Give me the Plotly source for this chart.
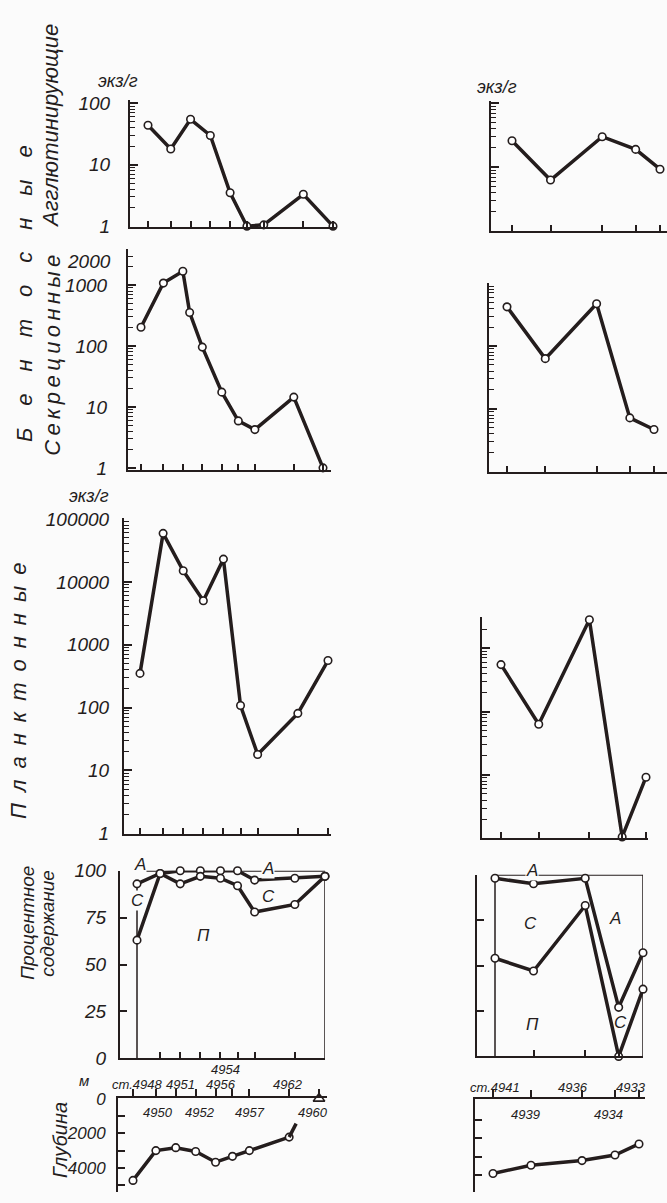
import math
import plotly.graph_objects as go

W, H = 667, 1203

# ---------------- data ----------------
# left profile stations (order along profile) and their distances (relative units)
left_stations = ["4948", "4950", "4951", "4952", "4954", "4956", "4957", "4962", "4960"]
left_pos = [0, 23, 43, 63, 83, 100, 117, 157, 187]
# right profile
right_stations = ["4941", "4939", "4936", "4934", "4933"]
right_pos = [0, 38, 89, 122, 146]

# benthic agglutinated, specimens/g
left_aggl = [44, 18, 55, 30, 3.5, 1, 1.05, 3.3, 1]
right_aggl = [26, 6.3, 30, 19, 9.3]

# benthic secretory (calcareous), specimens/g (left has an extra sample between 4951 and 4952)
left_secr_pos = [0, 23, 43, 50, 63, 83, 100, 117, 157, 187]
left_secr = [203, 1080, 1690, 355, 96, 17.5, 5.9, 4.25, 14.5, 1]
right_secr = [420, 63, 470, 7.2, 4.7]

# planktonic, specimens/g
left_plank = [350, 59000, 15000, 5000, 23000, 108, 18, 81, 560]
right_plank = [550, 63, 2800, 1.05, 9.2]

# percentage: P (planktonic) and P+C (planktonic + secretory); remainder = A
left_pct_P = [63, 98.5, 93, 97, 96, 92, 78, 82, 97]
left_pct_PC = [93, 98.5, 100, 100, 100, 100, 95, 96, 97]
right_pct_P = [54, 47, 83, 0, 37]
right_pct_PC = [98, 95, 98, 27, 57]

# depth, m
left_depth = [4720, 3000, 2830, 3050, 3670, 3330, 3000, 2220]
left_depth_stub_pos = [157, 164]
left_depth_stub = [2220, 1440]
left_shallow_pos = [187]
left_shallow_depth = [0]
right_depth = [3900, 3450, 3200, 2900, 2300]

# tick labels
log_ticks_1 = [1, 10, 100]
log_ticks_2 = [1, 10, 100, 1000, 2000]
log_ticks_3 = [1, 10, 100, 1000, 10000, 100000]
pct_ticks = [0, 25, 50, 75, 100]
depth_ticks = [0, 2000, 4000]

# ---------------- styles ----------------
INK = "#241d1d"
BG = "#fbfbfb"
FONT = "Liberation Sans, Arial, sans-serif"
FONT_W = "Liberation Sans, DejaVu Sans, sans-serif"
LW = 3.5
TICKFONT = 19
MK = dict(symbol="circle", size=7.5, color="white", line=dict(color=INK, width=1.6))

fig = go.Figure()
layout = {}
annotations = []


def fx(p):
    return p / W


def fy(p):
    return 1 - p / H


def minor_log(lo_exp, hi_exp):
    vals = []
    for e in range(lo_exp, hi_exp + 1):
        for m in range(2, 10):
            vals.append(m * 10 ** e)
    return vals


def make_axes(n, L, R, T, B, f, l, pmin, pmax, yrange, ytype="linear",
              xside="bottom", xticks="inside", tickpos=None):
    s = (l - f) / (pmax - pmin)
    xr = [pmin - (f - L) / s, pmax + (R - l) / s]
    xa = dict(domain=[fx(L), fx(R)], range=xr, anchor=f"y{n}", showgrid=False,
              zeroline=False, showline=True, linecolor=INK, linewidth=2,
              ticks=xticks, ticklen=6, tickwidth=1.5, tickcolor=INK,
              tickvals=tickpos, showticklabels=False, side=xside, fixedrange=True)
    ya = dict(domain=[fy(B), fy(T)], range=yrange, type=ytype, anchor=f"x{n}",
              showgrid=False, zeroline=False, showline=True, linecolor=INK,
              linewidth=2, ticks="inside", ticklen=8, tickwidth=1.5, tickcolor=INK,
              fixedrange=True,
              tickfont=dict(family=FONT, size=TICKFONT, color=INK, style="italic"))
    layout[f"xaxis{n}"] = xa
    layout[f"yaxis{n}"] = ya
    return xa, ya


def log_range(B, T, y1px, ppd):
    return [-(B - y1px) / ppd, (y1px - T) / ppd]


def line(n, x, y, markers=True, width=LW):
    fig.add_trace(go.Scatter(
        x=x, y=y, xaxis=f"x{n}", yaxis=f"y{n}",
        mode="lines+markers" if markers else "lines",
        line=dict(color=INK, width=width),
        marker=MK, cliponaxis=False, showlegend=False, hoverinfo="skip"))


# ---- left column ----
# 1 agglutinated
xa, ya = make_axes(1, 130, 336, 92, 221, 148, 333, 0, 187,
                   log_range(221, 92, 220, 62.5), "log", tickpos=left_pos)
ya.update(tickvals=log_ticks_1, ticktext=[str(v) for v in log_ticks_1],
          ticklabelstandoff=14,
          minor=dict(tickvals=minor_log(0, 1), ticks="inside", ticklen=5,
                     tickcolor=INK, tickwidth=1.2))
line(1, left_pos, left_aggl)

# 2 secretory (the top label "2000" is drawn separately, slightly raised, as in the original)
xa, ya = make_axes(2, 128, 331, 243, 468, 141, 323, 0, 187,
                   log_range(468, 243, 466, 62), "log", tickpos=left_pos)
ya.update(tickvals=log_ticks_2,
          ticktext=[str(v) if v != log_ticks_2[-1] else "" for v in log_ticks_2],
          ticklabelstandoff=15,
          minor=dict(tickvals=minor_log(0, 3), ticks="inside", ticklen=5,
                     tickcolor=INK, tickwidth=1.2))
line(2, left_secr_pos, left_secr)

# 3 planktonic
xa, ya = make_axes(3, 124, 331, 517, 839, 140, 328, 0, 187,
                   log_range(839, 517, 838, 64), "log", tickpos=left_pos)
ya.update(tickvals=log_ticks_3, ticktext=[str(v) for v in log_ticks_3],
          ticklabelstandoff=9,
          minor=dict(tickvals=minor_log(0, 4), ticks="inside", ticklen=5,
                     tickcolor=INK, tickwidth=1.2))
line(3, left_pos, left_plank)

# 4 percentages
xa, ya = make_axes(4, 120, 325, 876, 1067, 137, 325, 0, 187,
                   [0, 100], tickpos=left_pos[1:-1])
ya.update(tickvals=pct_ticks, ticktext=[str(v) for v in pct_ticks],
          ticklabelstandoff=8, ticklen=7)
line(4, [left_pos[0], left_pos[-1]], [100, 100], markers=False, width=2)
line(4, [left_pos[0], left_pos[0]], [0, left_pct_PC[0]], markers=False, width=1.5)
line(4, [left_pos[-1], left_pos[-1]], [0, left_pct_P[-1]], markers=False, width=1.5)
line(4, left_pos, left_pct_PC)
line(4, left_pos, left_pct_P)

# 5 depth
xa, ya = make_axes(5, 118, 327, 1107, 1203, 133, 319, 0, 187,
                   [(1203 - 1106) / 18 * 1000, -(1107 - 1106) / 18 * 1000],
                   xside="top", xticks="outside", tickpos=left_pos)
ya.update(tickvals=depth_ticks, ticktext=[str(v) for v in depth_ticks],
          ticklabelstandoff=7, ticklen=7,
          tickfont=dict(family=FONT, size=17, color=INK, style="italic"),
          minor=dict(tickvals=[1000, 3000, 5000], ticks="inside", ticklen=7,
                     tickcolor=INK, tickwidth=1.5))
xa.update(ticklen=7)
line(5, left_pos[:-1], left_depth)
line(5, left_depth_stub_pos, left_depth_stub, markers=False)
fig.add_trace(go.Scatter(x=left_shallow_pos, y=left_shallow_depth, xaxis="x5", yaxis="y5",
                         mode="markers", cliponaxis=False, showlegend=False,
                         marker=dict(symbol="triangle-up", size=10, color="white",
                                     line=dict(color=INK, width=1.6))))

# ---- right column ----
xa, ya = make_axes(6, 491, 667, 93, 225, 512, 660, 0, 146,
                   log_range(225, 93, 225, 65), "log", tickpos=right_pos)
ya.update(tickvals=[1, 10, 100], showticklabels=False,
          minor=dict(tickvals=minor_log(0, 1), ticks="inside", ticklen=5,
                     tickcolor=INK, tickwidth=1.2))
line(6, right_pos, right_aggl)

xa, ya = make_axes(7, 489, 667, 278, 470, 507, 654, 0, 146,
                   log_range(470, 278, 470, 64), "log", tickpos=right_pos)
ya.update(tickvals=[1, 10, 100, 1000], showticklabels=False,
          minor=dict(tickvals=minor_log(0, 2), ticks="inside", ticklen=5,
                     tickcolor=INK, tickwidth=1.2))
line(7, right_pos, right_secr)

xa, ya = make_axes(8, 482, 648, 618, 843, 501, 646, 0, 146,
                   log_range(843, 618, 843, 64.5), "log", tickpos=right_pos)
ya.update(tickvals=[1, 10, 100, 1000], showticklabels=False,
          minor=dict(tickvals=minor_log(0, 3), ticks="inside", ticklen=5,
                     tickcolor=INK, tickwidth=1.2))
line(8, right_pos, right_plank)

xa, ya = make_axes(9, 477, 643, 880, 1065, 495, 643, 0, 146,
                   [0, 100], tickpos=right_pos[1:-1])
ya.update(tickvals=pct_ticks, showticklabels=False, ticklen=7)
line(9, [right_pos[0], right_pos[-1]], [100, 100], markers=False, width=2)
line(9, [right_pos[0], right_pos[0]], [0, right_pct_PC[0]], markers=False, width=1.5)
line(9, [right_pos[-1], right_pos[-1]], [0, 100], markers=False, width=1.5)
line(9, right_pos, right_pct_PC)
line(9, right_pos, right_pct_P)

xa, ya = make_axes(10, 475, 645, 1108, 1203, 493, 639, 0, 146,
                   [(1203 - 1105) / 20 * 1000, -(1108 - 1105) / 20 * 1000],
                   xside="top", xticks="outside", tickpos=right_pos)
ya.update(tickvals=[1000, 2000, 3000, 4000], showticklabels=False, ticklen=7)
xa.update(ticklen=7)
line(10, right_pos, right_depth)

# ---------------- text ----------------

def ann(x, y, text, size=16, angle=0, font=FONT, bg=None, xanchor="center"):
    d = dict(x=fx(x), y=fy(y), xref="paper", yref="paper", text=text,
             showarrow=False, textangle=angle, xanchor=xanchor, yanchor="middle",
             font=dict(family=font, size=size, color=INK, style="italic"))
    if bg:
        d["bgcolor"] = bg
        d["borderpad"] = 0
    annotations.append(d)


ann(113, 256, str(log_ticks_2[-1]), TICKFONT, xanchor="right")

ann(118, 72, "экз/г", 18, font=FONT_W)
ann(497, 78, "экз/г", 18, font=FONT_W)
ann(89, 495, "экз/г", 18, font=FONT_W)

ann(51, 118, "Агглютинирующие", 22, -90, FONT_W)
ann(25, 289, "\u2003".join("Бентосные"), 22, -90, FONT_W)
ann(53, 352, "\u2009".join("Секреционные"), 22, -90, FONT_W)
ann(19, 693, "\u2002".join("Планктонные"), 22, -90, FONT_W)
ann(28, 929, "Процентное", 19, -90, FONT)
ann(48, 929, "содержание", 19, -90, FONT)
ann(60, 1150, "Глубина", 20, -90, FONT_W)

# percentage letters
ann(140, 870, "A", 17, bg=BG)
ann(137, 906, "C", 17, bg=BG)
ann(268, 874, "A", 17, bg=BG)
ann(268, 902, "C", 17)
ann(203, 942, "П", 17)
ann(532, 876, "A", 17, bg=BG)
ann(530, 930, "C", 17)
ann(615, 925, "A", 17)
ann(532, 1033, "П", 17)
ann(620, 1030, "C", 17)

# depth labels
ann(84, 1090, "м", 15)
ann(137, 1094, "ст.4948", 13)
ann(180, 1094, "4951", 13)
ann(226, 1078, "4954", 13)
ann(221, 1094, "4956", 13)
ann(288, 1094, "4962", 13)
ann(158, 1122, "4950", 13)
ann(200, 1122, "4952", 13)
ann(250, 1122, "4957", 13)
ann(313, 1122, "4960", 13)

ann(495, 1097, "ст.4941", 13)
ann(573, 1097, "4936", 13)
ann(631, 1097, "4933", 13)
ann(525, 1124, "4939", 13)
ann(608, 1124, "4934", 13)

fig.update_layout(
    width=W, height=H, margin=dict(l=0, r=0, t=0, b=0),
    paper_bgcolor=BG, plot_bgcolor="rgba(0,0,0,0)",
    showlegend=False, annotations=annotations, **layout)

fig.write_html("out.html")
